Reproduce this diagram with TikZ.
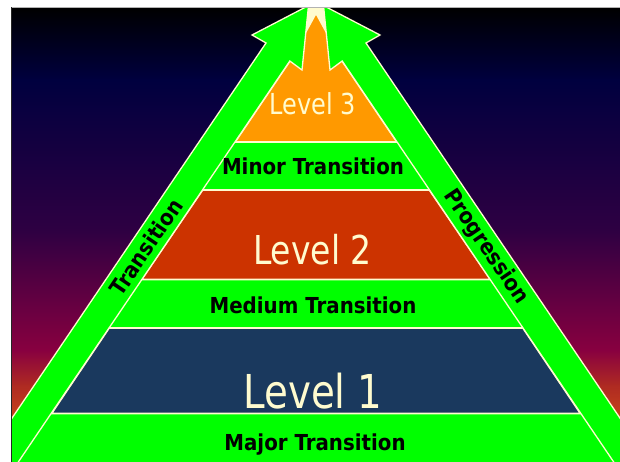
\documentclass[tikz,border=0pt]{standalone}
\usepackage{fontspec}
\setmainfont{DejaVu Sans}
\newfontfamily\lvlfont[FakeStretch=0.83]{DejaVu Sans}
\newfontfamily\trfont[FakeStretch=0.9, BoldFont={DejaVu Sans Bold}]{DejaVu Sans}
\definecolor{grn}{HTML}{00FF00}
\definecolor{crm}{HTML}{FFFBCF}
\definecolor{lvA}{HTML}{1A395E}
\definecolor{lvB}{HTML}{CC3300}
\definecolor{lvC}{HTML}{FF9900}
\definecolor{bgA}{HTML}{00003F}
\definecolor{bgB}{HTML}{2E0042}
\definecolor{bgC}{HTML}{880040}
\definecolor{bgD}{HTML}{AE2A22}
\definecolor{bgE}{HTML}{E86410}
\begin{document}
\begin{tikzpicture}[x=1pt,y=-1pt,
  band/.style={fill=grn, draw=crm, line width=1.3pt, line join=miter},
  layer/.style={draw=crm, line width=1.8pt},
  lvltxt/.style={text=crm, font=\lvlfont\fontsize{#1}{#1}\selectfont, inner sep=0pt, anchor=base},
  trtxt/.style={text=black, font=\trfont\bfseries\fontsize{22}{22}\selectfont, inner sep=0pt}]
\useasboundingbox (0,0) rectangle (620,462);
\fill[white] (0,0) rectangle (620,462);
\begin{scope}
\clip (11,8) rectangle (620,462);
% background gradient
\shade[top color=black, bottom color=bgA] (11,7.5) rectangle (620,80.5);
\shade[top color=bgA, bottom color=bgB] (11,80) rectangle (620,230.5);
\shade[top color=bgB, bottom color=bgC] (11,230) rectangle (620,350.5);
\shade[top color=bgC, bottom color=bgD] (11,350) rectangle (620,385.5);
\shade[top color=bgD, bottom color=bgE] (11,385) rectangle (620,462);
% inner pyramid area (transition layers)
\fill[grn] (6.1,480) -- (289.8,61) -- (342.2,61) -- (625.9,480) -- cycle;
% cream gap between arrow heads
\fill[crm] (302,70) -- (308.5,0) -- (323.5,0) -- (330,70) -- cycle;
% levels
\filldraw[layer, fill=lvC] (235,142) -- (289.8,61) -- (316,13) -- (342.2,61) -- (397,142) -- cycle;
\filldraw[layer, fill=lvB] (202.5,190) -- (429.5,190) -- (490.5,279.5) -- (141.5,279.5) -- cycle;
\filldraw[layer, fill=lvA] (109,328) -- (523,328) -- (580.5,413.5) -- (51.5,413.5) -- cycle;
% arrows
\filldraw[band] (-29.9,480) -- (266,43) -- (252,35) -- (308.5,5.6) -- (302,70) -- (289.8,61) -- (6.1,480) -- cycle;
\filldraw[band] (661.9,480) -- (366,43) -- (380,35) -- (323.5,5.6) -- (330,70) -- (342.2,61) -- (625.9,480) -- cycle;
\end{scope}
% frame lines
\draw[gray!60, line width=1pt] (11,7.5) -- (620,7.5);
\draw[black!85, line width=1.2pt] (11.6,7.5) -- (11.6,462);
% texts
\node[lvltxt=28.9] (l3) at (313,115) {Level 3};
\node[lvltxt=39.8] (l2) at (312.5,264) {Level 2};
\node[lvltxt=46.7] (l1) at (313,408) {Level 1};
\node[trtxt, anchor=base] (t3) at (313,175) {Minor Transition};
\node[trtxt, anchor=base] (t2) at (313,313) {Medium Transition};
\node[trtxt, anchor=base] (t1) at (315,450) {Major Transition};
\node[trtxt, rotate=55.9] (tl) at (146,247) {Transition};
\node[trtxt, rotate=-55.9] (tr) at (486,247) {Progression};
\end{tikzpicture}
\end{document}
